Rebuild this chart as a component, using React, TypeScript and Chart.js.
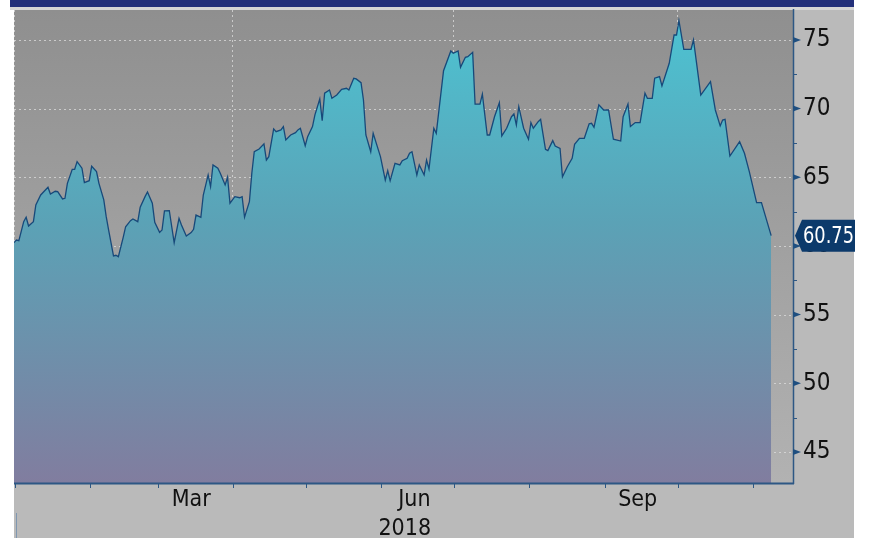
import React, { useEffect, useRef } from 'react';
import { Chart, registerables } from 'chart.js';

Chart.register(...registerables);

// Day of 2018 (0 = Jan 1) for each close
const dayOfYear = [
  0, 1, 2, 4, 5, 6, 8, 9, 11, 14,
  15, 17, 18, 20, 21, 22, 24, 25, 26, 28,
  29, 31, 32, 34, 35, 37, 38, 39, 41, 42,
  43, 45, 46, 48, 49, 51, 52, 54, 55, 57,
  58, 60, 61, 62, 64, 65, 66, 68, 69, 71,
  73, 74, 75, 77, 78, 80, 81, 82, 84, 85,
  87, 88, 89, 91, 93, 94, 95, 97, 98, 99,
  101, 103, 104, 105, 107, 108, 110, 111, 112, 114,
  116, 117, 118, 120, 121, 123, 124, 126, 127, 128,
  130, 131, 133, 135, 137, 138, 140, 141, 143, 144,
  145, 147, 148, 151, 153, 154, 155, 157, 159, 160,
  162, 163, 164, 166, 167, 169, 170, 171, 173, 174,
  177, 180, 181, 183, 184, 186, 187, 189, 190, 192,
  193, 195, 196, 198, 200, 201, 203, 205, 206, 207,
  208, 210, 212, 213, 214, 216, 217, 219, 220, 222,
  223, 225, 226, 228, 230, 231, 233, 235, 237, 238,
  239, 241, 243, 245, 247, 250, 251, 253, 254, 256,
  258, 260, 261, 263, 264, 266, 267, 270, 272, 273,
  274, 276, 279, 280, 283, 287, 289, 291, 292, 293,
  295, 299, 301, 303, 306, 308, 312,
];

const closePrices = [
  60.24, 60.43, 60.38, 61.77, 62.09, 61.45, 61.77, 62.98, 63.71, 64.27,
  63.78, 63.98, 63.95, 63.42, 63.47, 64.56, 65.58, 65.58, 66.14, 65.66,
  64.61, 64.75, 65.8, 65.41, 64.56, 63.35, 62.13, 61.16, 59.27, 59.32,
  59.22, 60.63, 61.4, 61.84, 61.96, 61.77, 62.82, 63.59, 63.93, 63.11,
  61.72, 60.99, 61.16, 62.55, 62.57, 61.4, 60.24, 62.01, 61.53, 60.72,
  60.97, 61.21, 62.25, 62.09, 63.71, 65.17, 64.32, 65.9, 65.66, 65.29,
  64.44, 65.0, 63.11, 63.59, 63.51, 63.59, 62.09, 63.22, 65.29, 66.86,
  67.06, 67.43, 66.26, 66.5, 68.52, 68.32, 68.45, 68.69, 67.72, 68.08,
  68.25, 68.45, 68.57, 67.3, 67.96, 68.69, 69.54, 70.7, 69.12, 71.12,
  71.36, 70.75, 70.99, 71.41, 71.48, 71.36, 72.21, 72.16, 71.89, 70.63,
  68.08, 66.86, 68.2, 66.5, 64.8, 65.48, 64.75, 66.02, 65.9, 66.21,
  66.38, 66.75, 66.86, 65.17, 65.9, 65.17, 66.26, 65.6, 68.57, 68.2,
  72.76, 74.2, 74.03, 74.2, 73.01, 73.74, 73.78, 74.1, 70.32, 70.32,
  71.05, 68.08, 68.08, 69.41, 70.43, 68.01, 68.57, 69.41, 69.61, 68.81,
  70.14, 68.57, 67.77, 68.98, 68.57, 69.05, 69.22, 67.04, 66.94, 67.67,
  67.28, 67.11, 65.04, 65.77, 66.38, 67.4, 67.84, 67.84, 68.9, 68.93,
  68.64, 70.27, 69.9, 69.9, 67.77, 67.64, 69.41, 70.34, 68.69, 68.98,
  68.98, 71.12, 70.75, 70.75, 72.21, 72.33, 71.65, 73.3, 75.36, 75.36,
  76.41, 74.32, 74.32, 75.0, 70.99, 71.96, 69.9, 68.74, 69.17, 69.22,
  66.55, 67.59, 66.75, 65.41, 63.15, 63.15, 60.75,
];

const yTickValues = [45, 50, 55, 60, 65, 70, 75];
const yMinorTickValues = [47.5, 52.5, 57.5, 62.5, 67.5, 72.5];
const monthStartDays = [0, 31, 59, 90, 120, 151, 181, 212, 243, 273, 304];
const quarterStartDays = [0, 90, 181, 273];
const xLabelDays = [73, 161, 165, 257];
const xLabelTexts: string[][] = [['Mar'], ['', '2018'], ['Jun'], ['Sep']];

const X_MIN = 0;
const X_MAX = 321;
const Y_MIN = 42.74;
const Y_MAX = 77.18;

const FONT = "'Liberation Sans Narrow', 'DejaVu Sans Condensed', 'Arial Narrow', sans-serif";
const W = 869;
const H = 538;

export default function App() {
  const ref = useRef<HTMLCanvasElement | null>(null);

  useEffect(() => {
    document.body.style.margin = '0';
    const canvas = ref.current;
    if (!canvas) return;

    const backgroundPlugin = {
      id: 'bgPlugin',
      beforeDraw(chart: any) {
        const { ctx, chartArea } = chart;
        ctx.save();
        ctx.fillStyle = '#ffffff';
        ctx.fillRect(0, 0, W, H);
        ctx.fillStyle = '#bababa';
        ctx.fillRect(14, 8, 840, H - 8);
        ctx.fillStyle = '#d6d6d6';
        ctx.fillRect(10, 7, 844, 3);
        ctx.fillStyle = '#23307a';
        ctx.fillRect(10, 0, 844, 7);
        const g = ctx.createLinearGradient(0, chartArea.top, 0, chartArea.bottom);
        g.addColorStop(0, '#8f8f8f');
        g.addColorStop(1, '#b2b2b2');
        ctx.fillStyle = g;
        ctx.fillRect(chartArea.left, chartArea.top, chartArea.right - chartArea.left, chartArea.bottom - chartArea.top);
        ctx.restore();
      },
      beforeDatasetsDraw(chart: any) {
        const { ctx, chartArea, scales } = chart;
        const xs = scales.x;
        const ys = scales.y;
        ctx.save();
        ctx.strokeStyle = 'rgba(222,222,222,0.75)';
        ctx.lineWidth = 1;
        ctx.setLineDash([2, 3]);
        yTickValues.forEach((v) => {
          const y = Math.round(ys.getPixelForValue(v)) + 0.5;
          ctx.beginPath();
          ctx.moveTo(chartArea.left, y);
          ctx.lineTo(chartArea.right, y);
          ctx.stroke();
        });
        quarterStartDays.forEach((d) => {
          const x = Math.round(xs.getPixelForValue(d)) + 0.5;
          ctx.beginPath();
          ctx.moveTo(x, chartArea.top);
          ctx.lineTo(x, chartArea.bottom);
          ctx.stroke();
        });
        ctx.restore();
      },
      afterDraw(chart: any) {
        const { ctx, chartArea, scales } = chart;
        const xs = scales.x;
        const ys = scales.y;
        ctx.save();
        ctx.strokeStyle = '#2d5784';
        ctx.lineWidth = 1.5;
        ctx.beginPath();
        ctx.moveTo(chartArea.right + 0.5, chartArea.top - 1);
        ctx.lineTo(chartArea.right + 0.5, chartArea.bottom + 1);
        ctx.stroke();
        ctx.lineWidth = 2;
        ctx.beginPath();
        ctx.moveTo(chartArea.left, chartArea.bottom + 0.5);
        ctx.lineTo(chartArea.right + 1, chartArea.bottom + 0.5);
        ctx.stroke();
        ctx.lineWidth = 1;
        monthStartDays.forEach((d) => {
          const x = Math.round(xs.getPixelForValue(d)) + 1.5;
          ctx.beginPath();
          ctx.moveTo(x, chartArea.bottom);
          ctx.lineTo(x, chartArea.bottom + 5);
          ctx.stroke();
        });
        ctx.fillStyle = '#1f4f80';
        yTickValues.forEach((v) => {
          const y = ys.getPixelForValue(v);
          ctx.beginPath();
          ctx.moveTo(chartArea.right, y - 3);
          ctx.lineTo(chartArea.right + 8, y);
          ctx.lineTo(chartArea.right, y + 3);
          ctx.closePath();
          ctx.fill();
        });
        ctx.strokeStyle = '#2d5784';
        yMinorTickValues.forEach((v) => {
          const y = Math.round(ys.getPixelForValue(v)) + 0.5;
          ctx.beginPath();
          ctx.moveTo(chartArea.right, y);
          ctx.lineTo(chartArea.right + 4, y);
          ctx.stroke();
        });
        ctx.strokeStyle = '#7f97b0';
        ctx.lineWidth = 1;
        ctx.beginPath();
        ctx.moveTo(16.5, 513);
        ctx.lineTo(16.5, H);
        ctx.stroke();
        // last price tag
        const last = closePrices[closePrices.length - 1];
        const py = ys.getPixelForValue(last);
        const tip = chartArea.right + 2;
        ctx.fillStyle = '#0c3a6b';
        ctx.beginPath();
        ctx.moveTo(tip, py);
        ctx.lineTo(tip + 7, py - 16);
        ctx.lineTo(855, py - 16);
        ctx.lineTo(855, py + 16);
        ctx.lineTo(tip + 7, py + 16);
        ctx.closePath();
        ctx.fill();
        ctx.fillStyle = '#ffffff';
        ctx.font = `23px ${FONT}`;
        ctx.textAlign = 'left';
        ctx.textBaseline = 'middle';
        const txt = last.toFixed(2);
        const tw = ctx.measureText(txt).width;
        const sx = Math.min(1, 51 / tw);
        ctx.translate(tip + 8, py + 1);
        ctx.scale(sx, 1);
        ctx.fillText(txt, 0, 0);
        ctx.restore();
      },
    };

    const chart = new Chart(canvas, {
      type: 'line',
      data: {
        datasets: [
          {
            data: dayOfYear.map((d, i) => ({ x: d, y: closePrices[i] })),
            borderColor: '#17497a',
            borderWidth: 1.3,
            pointRadius: 0,
            tension: 0,
            fill: 'start',
            backgroundColor: (c: any) => {
              const { chart: ch } = c;
              const area = ch.chartArea;
              if (!area) return '#5aa5b8';
              const g = ch.ctx.createLinearGradient(0, area.top, 0, area.bottom);
              g.addColorStop(0, '#4cc4d3');
              g.addColorStop(0.45, '#5ba2b6');
              g.addColorStop(1, '#817d9f');
              return g;
            },
          },
        ],
      },
      options: {
        responsive: false,
        animation: false,
        events: [],
        layout: { padding: { left: 14, top: 10, right: 0, bottom: 0 } },
        plugins: { legend: { display: false }, tooltip: { enabled: false } },
        scales: {
          x: {
            type: 'linear',
            position: 'bottom',
            min: X_MIN,
            max: X_MAX,
            grid: { display: false, drawTicks: false },
            border: { display: false },
            afterBuildTicks: (s: any) => {
              s.ticks = xLabelDays.map((v) => ({ value: v }));
            },
            afterFit: (s: any) => {
              s.height = H - 483;
              s.paddingLeft = 0;
              s.paddingRight = 0;
            },
            ticks: {
              autoSkip: false,
              maxRotation: 0,
              padding: 3,
              color: '#111111',
              font: { family: FONT, size: 23, lineHeight: 1.25 },
              callback: (value: any) => {
                const i = xLabelDays.indexOf(Number(value));
                return i >= 0 ? xLabelTexts[i] : '';
              },
            },
          },
          y: {
            type: 'linear',
            position: 'right',
            min: Y_MIN,
            max: Y_MAX,
            grid: { display: false, drawTicks: false },
            border: { display: false },
            afterBuildTicks: (s: any) => {
              s.ticks = yTickValues.map((v) => ({ value: v }));
            },
            afterFit: (s: any) => {
              s.width = W - 793;
              s.paddingTop = 0;
              s.paddingBottom = 0;
            },
            ticks: {
              autoSkip: false,
              padding: 10,
              color: '#111111',
              font: { family: FONT, size: 24 },
              callback: (value: any) => String(value),
            },
          },
        },
      },
      plugins: [backgroundPlugin],
    });

    return () => {
      chart.destroy();
    };
  }, []);

  return (
    <div style={{ width: W, height: H, position: 'relative' }}>
      <canvas ref={ref} width={W} height={H} style={{ display: 'block', width: W, height: H }} />
    </div>
  );
}
